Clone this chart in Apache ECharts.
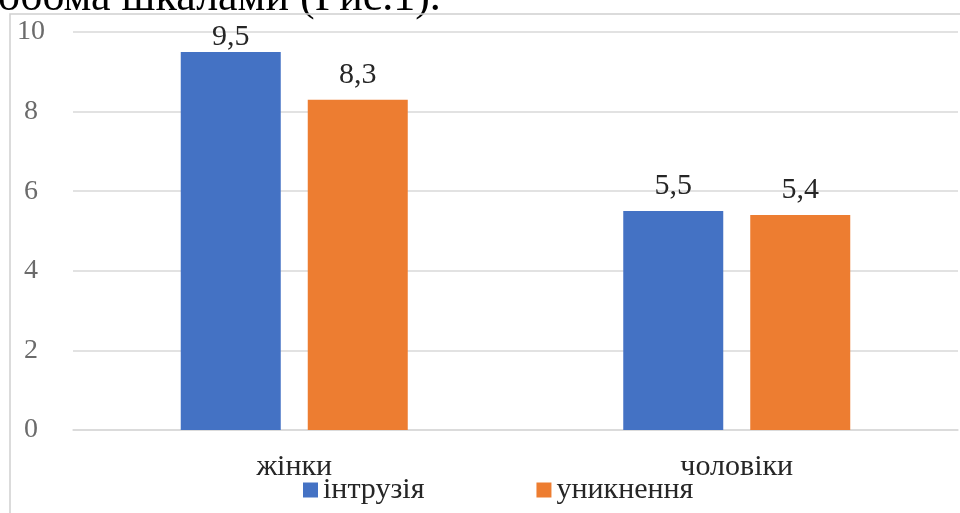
<!DOCTYPE html>
<html>
<head>
<meta charset="utf-8">
<script src="https://cdn.jsdelivr.net/npm/echarts@6/dist/echarts.min.js"></script>
<style>
  html, body { margin: 0; padding: 0; background: #fff; }
  #main { width: 960px; height: 513px; }
</style>
</head>
<body>
<div id="main"></div>
<script>
var categories = ['жінки', 'чоловіки'];
var intrusion = [9.5, 5.5];
var avoidance = [8.3, 5.4];
var seriesNames = ['інтрузія', 'уникнення'];

var myChart = echarts.init(document.getElementById('main'));
var serif = 'Liberation Serif';

function commaLabel(p) {
  return String(p.value).replace('.', ',');
}

var barLabel = {
  show: true,
  position: 'top',
  distance: 10,
  fontFamily: serif,
  fontSize: 30,
  color: '#262626',
  formatter: commaLabel
};

var option = {
  backgroundColor: '#fff',
  animation: false,
  textStyle: { fontFamily: serif },
  graphic: [
    {
      type: 'text',
      left: -2,
      top: -24,
      style: { text: 'обома шкалами (Рис.1).', font: '44px "Liberation Serif"', fill: '#000' }
    },
    {
      type: 'polyline',
      shape: { points: [[10, 513], [10, 14], [960, 14]] },
      style: { stroke: '#d0d0d0', lineWidth: 1.5, fill: null }
    }
  ],
  legend: {
    data: seriesNames,
    left: 303,
    top: 475,
    padding: 0,
    itemWidth: 15,
    itemHeight: 15,
    itemGap: 112,
    icon: 'rect',
    textStyle: { fontFamily: serif, fontSize: 30, color: '#262626' }
  },
  grid: { left: 73, right: 2, top: 32, bottom: 83, containLabel: false },
  xAxis: {
    type: 'category',
    data: categories,
    axisLine: { lineStyle: { color: '#d9d9d9', width: 1.5 } },
    axisTick: { show: false },
    axisLabel: { fontFamily: serif, fontSize: 30, color: '#262626', margin: 22 }
  },
  yAxis: {
    type: 'value',
    min: 0,
    max: 10,
    interval: 2,
    axisLine: { show: false },
    axisTick: { show: false },
    splitLine: { lineStyle: { color: '#d9d9d9', width: 1.5 } },
    axisLabel: { fontFamily: serif, fontSize: 28, color: '#6b6b6b', margin: 42, align: 'center' }
  },
  // keep labels inside the chart frame, like the original pushes the top one down
  labelLayout: function (params) {
    var minTop = 22;
    if (params.labelRect.y < minTop) {
      return { dy: minTop - params.labelRect.y };
    }
  },
  series: [
    {
      name: seriesNames[0],
      type: 'bar',
      data: intrusion,
      barWidth: 100,
      barGap: '27%',
      itemStyle: { color: '#4472C4' },
      label: barLabel
    },
    {
      name: seriesNames[1],
      type: 'bar',
      data: avoidance,
      barWidth: 100,
      barGap: '27%',
      itemStyle: { color: '#ED7D31' },
      label: barLabel
    }
  ]
};

myChart.setOption(option);
</script>
</body>
</html>
